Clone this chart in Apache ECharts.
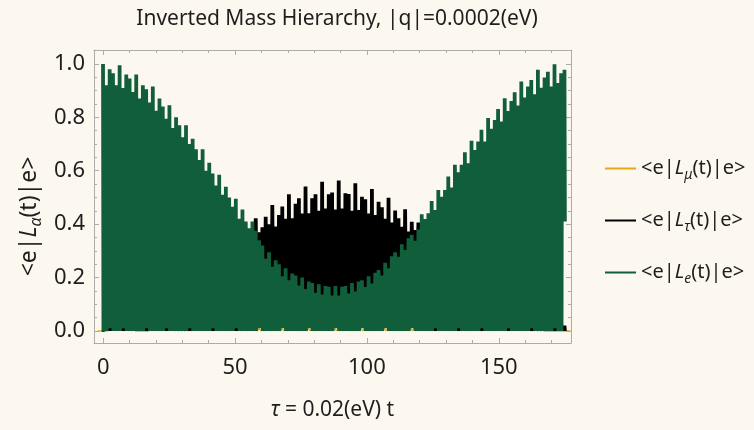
<!DOCTYPE html>
<html>
<head>
<meta charset="utf-8">
<script src="https://cdn.jsdelivr.net/npm/echarts@6/dist/echarts.min.js"></script>
<style>
  html, body { margin: 0; padding: 0; background: #fdf8ef; }
  #chart { width: 754px; height: 430px; }
</style>
</head>
<body>
<div id="chart"></div>
<script>
// τ span covered by the sampled curves (spikes are evenly spread over it)
const tauMax = 175;

// tick values
const xTicks = [0, 50, 100, 150];
const yTicks = [0, 0.2, 0.4, 0.6, 0.8, 1.0];

// <e|L_e(t)|e> : height of every fast-oscillation spike ...
const ePeak = [
  1.00, 0.92, 0.98, 0.965, 0.92, 0.995, 0.91, 0.96, 0.945, 0.895,
  0.96, 0.87, 0.92, 0.905, 0.855, 0.915, 0.825, 0.87, 0.84, 0.795,
  0.845, 0.76, 0.80, 0.77, 0.725, 0.77, 0.70, 0.72, 0.68, 0.64,
  0.68, 0.60, 0.63, 0.59, 0.545, 0.585, 0.51, 0.54, 0.50, 0.465,
  0.495, 0.42, 0.455, 0.41, 0.385, 0.41, 0.375, 0.34, 0.32, 0.27,
  0.295, 0.24, 0.265, 0.25, 0.205, 0.235, 0.19, 0.215, 0.208, 0.17,
  0.20, 0.157, 0.185, 0.18, 0.143, 0.175, 0.137, 0.168, 0.166, 0.133,
  0.168, 0.133, 0.166, 0.168, 0.14, 0.18, 0.148, 0.185, 0.19, 0.165,
  0.205, 0.178, 0.218, 0.228, 0.208, 0.255, 0.235, 0.28, 0.295, 0.278,
  0.325, 0.303, 0.347, 0.36, 0.338, 0.38, 0.437, 0.419, 0.441, 0.487,
  0.453, 0.528, 0.503, 0.528, 0.578, 0.537, 0.622, 0.594, 0.622, 0.669,
  0.628, 0.712, 0.678, 0.709, 0.753, 0.709, 0.797, 0.757, 0.79, 0.831,
  0.784, 0.871, 0.824, 0.861, 0.894, 0.844, 0.934, 0.874, 0.915, 0.94,
  0.886, 0.978, 0.911, 0.949, 0.971, 0.915, 0.999, 0.928, 0.965, 0.978
];
// ... and the minimum it falls back to after each spike
const eMin = [
  0, 0, 0.01, 0, 0, 0, 0.01, 0, 0, 0,
  0, 0, 0, 0.01, 0, 0, 0, 0, 0, 0.01,
  0, 0, 0, 0, 0, 0, 0.01, 0, 0, 0,
  0, 0, 0, 0.01, 0, 0, 0, 0, 0, 0,
  0.01, 0, 0, 0, 0, 0, 0, 0.01, 0, 0,
  0, 0, 0, 0, 0.01, 0, 0, 0, 0, 0,
  0, 0, 0.01, 0, 0, 0, 0, 0, 0, 0,
  0.01, 0, 0, 0, 0, 0, 0, 0, 0.01, 0,
  0, 0, 0, 0, 0, 0.01, 0, 0, 0, 0,
  0, 0, 0, 0.01, 0, 0, 0, 0, 0, 0,
  0.01, 0, 0, 0, 0, 0, 0, 0.01, 0, 0,
  0, 0, 0, 0, 0.01, 0, 0, 0, 0, 0,
  0, 0, 0.01, 0, 0, 0, 0, 0, 0, 0.01,
  0, 0, 0, 0, 0, 0, 0.01, 0, 0, 0.41
];

// <e|L_τ(t)|e>
const tauPeak = [
  0.00, 0.01, 0.02, 0.02, 0.01, 0.04, 0.03, 0.05, 0.06, 0.04,
  0.08, 0.06, 0.09, 0.10, 0.08, 0.12, 0.10, 0.13, 0.14, 0.12,
  0.16, 0.14, 0.17, 0.18, 0.16, 0.20, 0.18, 0.21, 0.22, 0.20,
  0.24, 0.22, 0.25, 0.26, 0.24, 0.28, 0.26, 0.29, 0.30, 0.27,
  0.31, 0.29, 0.32, 0.33, 0.31, 0.38, 0.422, 0.37, 0.388, 0.428,
  0.40, 0.472, 0.391, 0.434, 0.466, 0.42, 0.512, 0.422, 0.476, 0.497,
  0.44, 0.541, 0.441, 0.497, 0.512, 0.45, 0.559, 0.459, 0.512, 0.518,
  0.455, 0.563, 0.459, 0.516, 0.513, 0.45, 0.553, 0.453, 0.503, 0.493,
  0.44, 0.532, 0.434, 0.484, 0.463, 0.42, 0.499, 0.406, 0.451, 0.422,
  0.39, 0.456, 0.372, 0.409, 0.378, 0.406, 0.40, 0.36, 0.37, 0.38,
  0.34, 0.39, 0.33, 0.35, 0.36, 0.31, 0.35, 0.29, 0.31, 0.32,
  0.27, 0.31, 0.25, 0.27, 0.28, 0.23, 0.26, 0.21, 0.23, 0.23,
  0.19, 0.21, 0.17, 0.18, 0.18, 0.14, 0.16, 0.12, 0.13, 0.13,
  0.10, 0.11, 0.08, 0.08, 0.08, 0.05, 0.06, 0.03, 0.03, 0.02
];
const tauMin = [
  0, 0, 0, 0, 0, 0, 0, 0, 0, 0,
  0, 0, 0, 0, 0, 0, 0, 0, 0, 0,
  0, 0, 0, 0, 0, 0, 0, 0, 0, 0,
  0, 0, 0, 0, 0, 0, 0, 0, 0, 0,
  0, 0, 0, 0, 0, 0.33, 0.31, 0.29, 0.27, 0.255,
  0.24, 0.225, 0.21, 0.20, 0.19, 0.18, 0.17, 0.16, 0.155, 0.15,
  0.145, 0.14, 0.135, 0.13, 0.13, 0.125, 0.125, 0.12, 0.12, 0.12,
  0.12, 0.12, 0.12, 0.12, 0.125, 0.125, 0.13, 0.135, 0.14, 0.145,
  0.15, 0.16, 0.165, 0.175, 0.18, 0.19, 0.20, 0.21, 0.225, 0.24,
  0.255, 0.27, 0.285, 0.30, 0.315, 0.33, 0.35, 0, 0, 0,
  0, 0, 0, 0, 0, 0, 0, 0, 0, 0,
  0, 0, 0, 0, 0, 0, 0, 0, 0, 0,
  0, 0, 0, 0, 0, 0, 0, 0, 0, 0,
  0, 0, 0, 0, 0, 0, 0, 0, 0, 0
];

// <e|L_μ(t)|e> stays close to zero
const muPeak = [
  0.0, 0.005, 0.01, 0.005, 0.01, 0.012, 0.008, 0.012, 0.01, 0.012,
  0.01, 0.012, 0.01, 0.012, 0.01, 0.012, 0.01, 0.012, 0.01, 0.012,
  0.01, 0.012, 0.01, 0.012, 0.01, 0.012, 0.01, 0.012, 0.01, 0.012,
  0.01, 0.012, 0.01, 0.008, 0.005, 0.0
];
const muMin = [
  0, 0, 0, 0, 0, 0, 0, 0, 0, 0,
  0, 0, 0, 0, 0, 0, 0, 0, 0, 0,
  0, 0, 0, 0, 0, 0, 0, 0, 0, 0,
  0, 0, 0, 0, 0, 0
];

// Each spike is drawn as four quick up/down strokes so the dense oscillation reads as a solid band.
const STROKES_PER_SPIKE = 4;
function oscillation(peaks, mins) {
  const n = peaks.length;
  const step = tauMax / (n - 1);
  const m = STROKES_PER_SPIKE * 2;
  const pts = [];
  for (let i = 0; i < n; i++) {
    const t = i * step;
    for (let k = 0; k < m; k++) {
      pts.push([t + ((k - (m - 1) / 2) / m) * step, k % 2 === 0 ? peaks[i] : mins[i]]);
    }
  }
  return pts;
}

const FONT = 'Noto Sans';
const INK = '#1e1e1e';
const FRAME = '#aeaca8';
const colors = { mu: '#e6a817', tau: '#000000', e: '#115e3b' };
const legendText = {
  mu: '<e|{it|L}{sub|μ}(t)|e>',
  tau: '<e|{it|L}{sub|τ}(t)|e>',
  e: '<e|{it|L}{sub|e}(t)|e>'
};
const richParts = {
  it: { fontStyle: 'italic', fontFamily: FONT, fontSize: 20, color: INK, lineHeight: 27 },
  sub: { fontStyle: 'italic', fontFamily: FONT, fontSize: 14, color: INK, verticalAlign: 'bottom', lineHeight: 17 }
};
const richAxis = {
  it: { fontStyle: 'italic', fontFamily: FONT, fontSize: 23, color: INK, lineHeight: 30 },
  sub: { fontStyle: 'italic', fontFamily: FONT, fontSize: 16, color: INK, verticalAlign: 'bottom', lineHeight: 20 }
};
const richXName = {
  it: { fontStyle: 'italic', fontFamily: FONT, fontSize: 21, color: INK }
};

const xMin = -3.5, xMax = 177.4, yMin = -0.045, yMax = 1.052;

function frameAxis(extra) {
  return Object.assign({
    type: 'value',
    axisLine: { show: true, onZero: false, lineStyle: { color: FRAME, width: 1 } },
    splitLine: { show: false },
    minorSplitLine: { show: false }
  }, extra);
}

const chart = echarts.init(document.getElementById('chart'), null, { renderer: 'canvas' });
chart.setOption({
  backgroundColor: '#fdf8ef',
  animation: false,
  title: {
    text: 'Inverted Mass Hierarchy, |q|=0.0002(eV)',
    left: 332,
    textAlign: 'center',
    top: 4,
    textStyle: { fontFamily: FONT, fontSize: 21, fontWeight: 'normal', color: INK }
  },
  legend: {
    orient: 'vertical',
    left: 600,
    top: 150,
    itemGap: 25,
    itemWidth: 31,
    itemHeight: 2,
    icon: 'rect',
    data: ['mu', 'tau', 'e'],
    formatter: name => legendText[name],
    textStyle: { fontFamily: FONT, fontSize: 20, color: INK, lineHeight: 27, rich: richParts }
  },
  grid: { left: 94, top: 50, width: 477, height: 293, containLabel: false, outerBoundsMode: 'none' },
  xAxis: [
    frameAxis({
      position: 'bottom', min: xMin, max: xMax, splitNumber: 4,
      axisTick: { show: true, inside: true, length: 5, customValues: xTicks, lineStyle: { color: FRAME } },
      minorTick: { show: true, splitNumber: 5, length: 3, lineStyle: { color: FRAME } },
      axisLabel: {
        customValues: xTicks, margin: 14, fontFamily: FONT, fontSize: 22, color: INK
      },
      name: '{it|τ} = 0.02(eV) t',
      nameLocation: 'middle',
      nameGap: 57,
      nameMoveOverlap: false,
      nameTextStyle: { fontFamily: FONT, fontSize: 21, color: INK, rich: richXName }
    }),
    frameAxis({
      position: 'top', min: xMin, max: xMax, splitNumber: 4,
      axisTick: { show: true, inside: true, length: 5, customValues: xTicks, lineStyle: { color: FRAME } },
      minorTick: { show: true, splitNumber: 5, length: 3, lineStyle: { color: FRAME } },
      axisLabel: { show: false }
    })
  ],
  yAxis: [
    frameAxis({
      position: 'left', min: yMin, max: yMax, splitNumber: 5,
      axisTick: { show: true, inside: true, length: 5, customValues: yTicks, lineStyle: { color: FRAME } },
      minorTick: { show: true, splitNumber: 4, length: 3, lineStyle: { color: FRAME } },
      axisLabel: {
        customValues: yTicks, margin: 9, fontFamily: FONT, fontSize: 22, color: INK,
        formatter: v => v.toFixed(1)
      },
      name: '<e|{it|L}{sub|α}(t)|e>',
      nameLocation: 'middle',
      nameRotate: 90,
      nameGap: 50,
      nameMoveOverlap: false,
      nameTextStyle: { fontFamily: FONT, fontSize: 23, color: INK, rich: richAxis, padding: [0, 40, 0, 0] }
    }),
    frameAxis({
      position: 'right', min: yMin, max: yMax, splitNumber: 5,
      axisTick: { show: true, inside: true, length: 5, customValues: yTicks, lineStyle: { color: FRAME } },
      minorTick: { show: true, splitNumber: 4, length: 3, lineStyle: { color: FRAME } },
      axisLabel: { show: false }
    })
  ],
  series: [
    { name: 'mu', type: 'line', data: oscillation(muPeak, muMin), color: colors.mu },
    { name: 'tau', type: 'line', data: oscillation(tauPeak, tauMin), color: colors.tau },
    { name: 'e', type: 'line', data: oscillation(ePeak, eMin), color: colors.e }
  ].map(s => Object.assign(s, {
    xAxisIndex: 0, yAxisIndex: 0,
    showSymbol: false, symbol: 'none', sampling: null,
    lineStyle: { width: 1.3, color: s.color, join: 'bevel' },
    emphasis: { disabled: true }
  }))
});
</script>
</body>
</html>
